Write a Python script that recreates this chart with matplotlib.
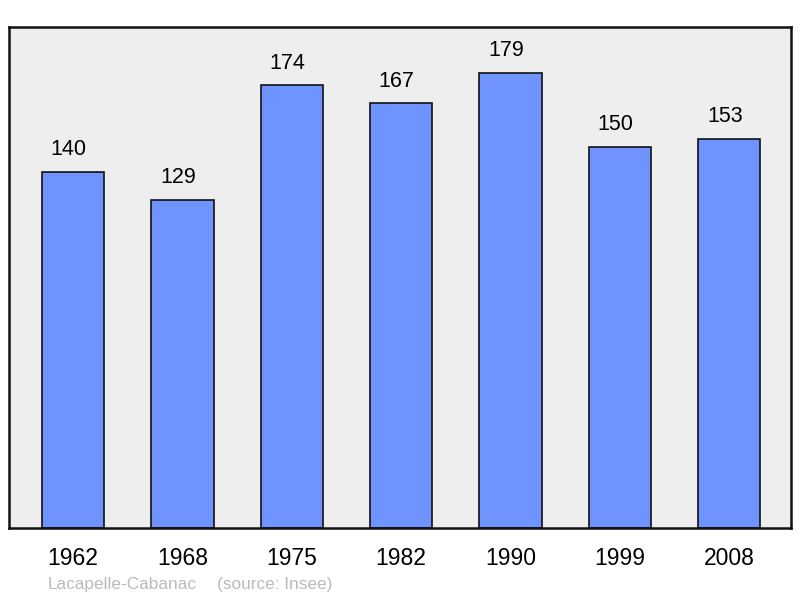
import numpy as np
import matplotlib.pyplot as plt

years = ['1962', '1968', '1975', '1982', '1990', '1999', '2008']
population = [140, 129, 174, 167, 179, 150, 153]
place = 'Lacapelle-Cabanac'
source = '(source: Insee)'

plt.rcParams['font.family'] = ['Liberation Sans', 'DejaVu Sans']

fig = plt.figure(figsize=(8.0, 5.98), dpi=100)
ax = fig.add_axes([9 / 800, 1 - 528 / 598, 782 / 800, 501 / 598])
ax.set_facecolor('#eeeeee')

x = np.arange(len(years))
ax.bar(x, population, width=0.57, color='#7094ff', edgecolor='#111111',
       linewidth=1.2, zorder=2)
for xi, v in zip(x, population):
    ax.text(xi - 0.04, v + 8.7, str(v), ha='center', va='center', fontsize=15.5)

ax.set_xlim(-0.585, 6.565)
ax.set_ylim(0, 197)
ax.set_yticks([])
ax.set_xticks(x)
ax.set_xticklabels(years, fontsize=16.5)
ax.tick_params(axis='x', length=0, pad=14)
for s in ax.spines.values():
    s.set_linewidth(1.8)
    s.set_color('#111111')

fig.text(48 / 800, 1 - 584 / 598, place, fontsize=12.4, color='#bbbbbb',
         va='center', ha='left')
fig.text(217 / 800, 1 - 584 / 598, source, fontsize=12.4, color='#bbbbbb',
         va='center', ha='left')

fig.savefig('out.png', dpi=100)
